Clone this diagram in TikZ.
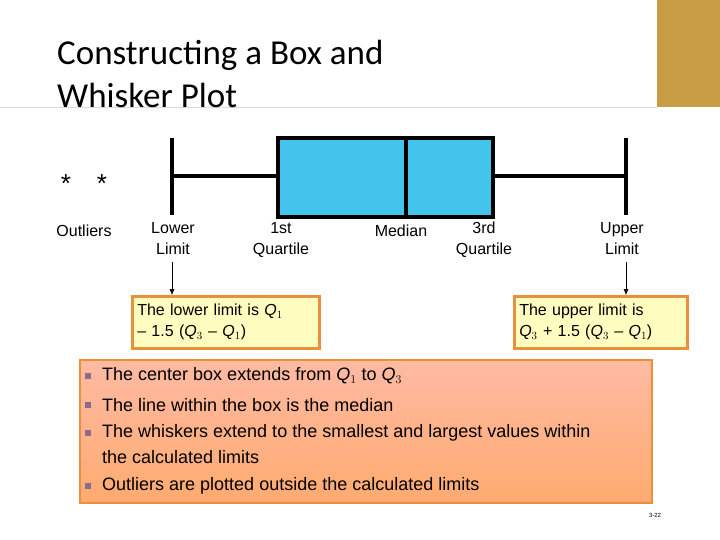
\documentclass[tikz,border=0pt]{standalone}
\usepackage{fontspec}
\usetikzlibrary{arrows.meta}
\setmainfont{Liberation Sans}
\newfontfamily\titlefont{Carlito}
\begin{document}
\begin{tikzpicture}[x=1pt,y=-1pt,
  lbl/.style={font=\fontsize{16}{21}\selectfont,align=center,inner sep=0pt},
  whisk/.style={line width=4pt},
  callout/.style={draw=obord,line width=2.5pt,fill=yellow!25,align=left,font=\fontsize{16}{21}\selectfont,inner sep=5pt,anchor=north west,minimum height=52pt}]
\useasboundingbox (0,0) rectangle (720,540);
\fill[white] (0,0) rectangle (720,540);
\definecolor{gold}{HTML}{C89B45}
\definecolor{boxblue}{HTML}{44C4EC}
\definecolor{bul}{HTML}{8B6A8A}
\definecolor{obord}{HTML}{E8913A}
\fill[gold] (657,0) rectangle (720,107);
\node[rotate=90,text=white,font=\fontsize{10}{11}\selectfont,anchor=east] (ch) at (678,104) {chapter \textbf{\Large 3}};
\draw[gray!30] (0,107) -- (657,107);
\node[anchor=north west,align=left,font=\titlefont\fontsize{35}{43}\selectfont,inner sep=0pt] (title) at (57,40) {Constructing a Box and\\Whisker Plot};
% plot
\draw[whisk] (172,138) -- (172,215);
\draw[whisk] (626,138) -- (626,215);
\draw[whisk] (172,176) -- (278,176);
\draw[whisk] (493,176) -- (626,176);
\draw[whisk,fill=boxblue] (278,138) rectangle (493,217);
\draw[whisk] (406,138) -- (406,217);
\node[font=\fontsize{26}{26}\selectfont] (s1) at (66,184) {*};
\node[font=\fontsize{26}{26}\selectfont] (s2) at (102,184) {*};
\node[lbl] (o) at (84,231) {Outliers};
\node[lbl,anchor=north] (ll) at (173,222) {Lower\\Limit};
\node[lbl,anchor=north] (q1) at (281,222) {1st\\Quartile};
\node[lbl] (md) at (401,231) {Median};
\node[lbl,anchor=north] (q3) at (484,222) {3rd\\Quartile};
\node[lbl,anchor=north] (ul) at (622,222) {Upper\\Limit};
\node[callout,text width=177pt] (lb) at (131,295) {The lower limit is \textit{Q}$_1$\\-- 1.5 (\textit{Q}$_3$ -- \textit{Q}$_1$)};
\node[callout,text width=163pt] (ub) at (513,295) {The upper limit is\\\textit{Q}$_3$ + 1.5 (\textit{Q}$_3$ -- \textit{Q}$_1$)};
\draw[-{Latex[length=6pt,width=5pt]}] (172,262) -- (lb.north west -| 172,0);
\draw[-{Latex[length=6pt,width=5pt]}] (626,262) -- (ub.north west -| 626,0);
\shade[top color=orange!20!pink!90!white,bottom color=orange!55!pink!85!white] (80,360) rectangle (652,503);
\draw[obord,line width=2.5pt] (80,360) rectangle (652,503);
\foreach \y/\t in {376/{The center box extends from \textit{Q}$_1$ to \textit{Q}$_3$},405/{The line within the box is the median},433/{The whiskers extend to the smallest and largest values within},486/{Outliers are plotted outside the calculated limits}}{
  \node[anchor=west,inner sep=0pt,font=\fontsize{18}{20}\selectfont] at (102,\y) {\t};
}
\foreach \y in {376,405,433,486}{\fill[bul] (85,\y-3) rectangle (91,\y+3);}
\node[anchor=west,inner sep=0pt,font=\fontsize{18}{20}\selectfont] (t5) at (102,457) {the calculated limits};
\node[font=\fontsize{6}{6}\selectfont] (pg) at (655,515) {3-22};
\end{tikzpicture}
\end{document}
